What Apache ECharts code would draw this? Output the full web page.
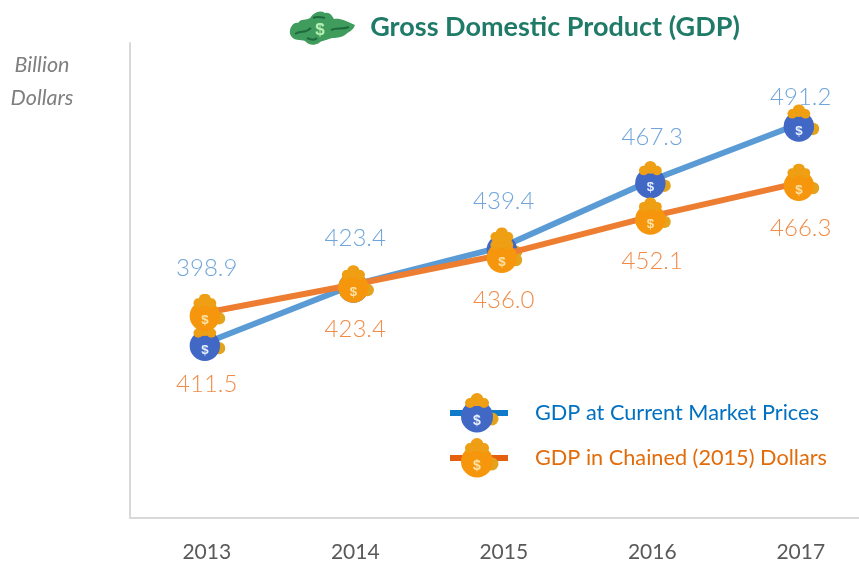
<!DOCTYPE html>
<html><head><meta charset="utf-8">
<style>html,body{margin:0;padding:0;background:#fff;overflow:hidden;width:859px;height:562px}#c{width:875px;height:562px}</style>
<script src="https://cdn.jsdelivr.net/npm/echarts@6/dist/echarts.min.js"></script>
</head><body><div id="c"></div>
<script>
const years = ['2013','2014','2015','2016','2017'];
const currentPrices = [398.9,423.4,439.4,467.3,491.2];
const chainedDollars = [411.5,423.4,436.0,452.1,466.3];
const currentLabelGap = [43,15,14,12,-5];
const chainedLabelGap = [41,14,15,14,15];
const currentName = 'GDP at Current Market Prices';
const chainedName = 'GDP in Chained (2015) Dollars';
const chartTitle = 'Gross Domestic Product (GDP)';
const unitTitle = 'Billion\nDollars';

function uri(s){return 'image://data:image/svg+xml;charset=utf-8,'+encodeURIComponent(s);}
function coin(body, dollar){
  return '<svg xmlns="http://www.w3.org/2000/svg" width="160" height="160" viewBox="0 0 40 40"><defs><filter id="b"><feGaussianBlur stdDeviation="0.35"/></filter></defs><g filter="url(#b)">'+
  '<circle cx="33" cy="26" r="6.5" fill="#E3A31E"/>'+
  '<circle cx="18" cy="23.5" r="16" fill="'+body+'"/>'+
  '<circle cx="18" cy="6.5" r="6.5" fill="#EE9F12"/><circle cx="11" cy="10" r="5" fill="#EE9F12"/><circle cx="25" cy="10" r="5" fill="#EE9F12"/>'+
  '<rect x="7" y="9" width="22" height="4" rx="2" fill="#EE9F12"/>'+
  '<text x="18" y="32" font-family="Liberation Sans" font-weight="700" font-size="14" text-anchor="middle" fill="'+dollar+'">$</text></g></svg>';
}
const bluePot = uri(coin('#3F67C4','#E8F0FF'));
const orangeBag = uri(coin('#F6960E','#FCE3A8'));
const greenMap = 'data:image/svg+xml;charset=utf-8,'+encodeURIComponent(
 '<svg xmlns="http://www.w3.org/2000/svg" width="280" height="140" viewBox="0 0 70 35"><defs><filter id="b"><feGaussianBlur stdDeviation="0.7"/></filter></defs><g filter="url(#b)">'+
 '<path d="M3 24 C 2 17 7 12 11 13 C 14 8 19 11 23 8 C 27 2 33 0 38 3 C 43 2 45 6 47 9 C 53 8 59 11 68 15 C 66 21 61 22 58 25 C 52 29 46 27 42 29 C 38 31 35 30 32 33 C 27 36 21 35 18 31 C 14 29 6 32 3 24 Z" fill="#3F9C5C"/>'+
 '<path d="M8 24 C 14 20 18 24 24 18 M44 20 C 50 17 55 20 62 17 M26 8 C 30 6 34 7 38 8 M20 28 C 24 30 28 30 30 28" stroke="#1E6B3C" stroke-width="2" fill="none"/>'+
 '<text x="33" y="25" font-family="Liberation Sans" font-weight="700" font-size="17" text-anchor="middle" fill="#B6F0B4">$</text></g></svg>');

function points(values, gaps){return values.map((v,i)=>({value:v,label:{distance:gaps[i]}}));}
const labelFont = {fontFamily:'Lato',fontWeight:300,fontSize:24,formatter:p=>p.value.toFixed(1)};

echarts.init(document.getElementById('c'),null,{renderer:'canvas'}).setOption({
  animation:false,
  backgroundColor:'#fff',
  title:[
    {text:chartTitle,left:550,top:9,textAlign:'center',textStyle:{fontFamily:'Lato',fontWeight:700,fontSize:27,color:'#1F7A68'}},
    {text:unitTitle,left:37,top:44,textAlign:'center',textStyle:{fontFamily:'Lato',fontStyle:'italic',fontWeight:400,fontSize:21.5,lineHeight:33,color:'#7F7F7F',align:'center'}}
  ],
  legend:{
    orient:'vertical',left:442,top:388,itemWidth:58,itemHeight:50,itemGap:5,selectedMode:false,
    data:[
      {name:currentName,lineStyle:{color:'#0F7AC9',width:6},textStyle:{color:'#0070C0'}},
      {name:chainedName,lineStyle:{color:'#E4600F',width:6},textStyle:{color:'#E36C0A'}}
    ],
    textStyle:{fontFamily:'Lato',fontSize:21.7,padding:[0,0,0,22]}
  },
  grid:{left:132.5,top:43,right:0,bottom:44,containLabel:false,outerBoundsMode:'none'},
  xAxis:{type:'category',data:years,
    axisLine:{lineStyle:{color:'#D9D9D9',width:2}},axisTick:{show:false},
    axisLabel:{margin:24,color:'#595959',fontFamily:'Lato',fontSize:21,fontWeight:400}},
  yAxis:{type:'value',min:325,max:525,offset:3,splitLine:{show:false},axisTick:{show:false},axisLabel:{show:false},
    axisLine:{show:true,lineStyle:{color:'#D9D9D9',width:2}}},
  series:[
    {name:currentName,type:'line',data:points(currentPrices,currentLabelGap),symbol:bluePot,symbolSize:38,showAllSymbol:true,
     lineStyle:{color:'#5B9BD5',width:6},itemStyle:{color:'#5B9BD5'},
     label:{show:true,position:'top',color:'#6FA5DA',...labelFont},z:2},
    {name:chainedName,type:'line',data:points(chainedDollars,chainedLabelGap),symbol:orangeBag,symbolSize:38,showAllSymbol:true,
     lineStyle:{color:'#ED7D31',width:6},itemStyle:{color:'#ED7D31'},
     label:{show:true,position:'bottom',color:'#F08C48',...labelFont},z:3}
  ],
  graphic:[
    {type:'image',left:287,top:10,z:5,style:{image:greenMap,width:70,height:35}},
    {type:'line',z:1,shape:{x1:129,y1:518,x2:134,y2:518},style:{stroke:'#D9D9D9',lineWidth:2}}
  ]
});
</script></body></html>
